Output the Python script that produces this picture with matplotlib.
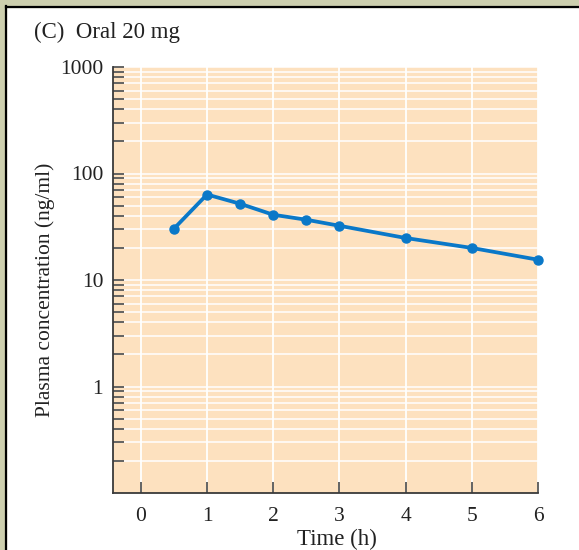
import matplotlib
matplotlib.use('Agg')
import matplotlib.pyplot as plt
from matplotlib.patches import Rectangle
from matplotlib.lines import Line2D
from matplotlib.ticker import LogLocator, FixedLocator, FixedFormatter, NullFormatter

# data
time_h = [0.5, 1, 1.5, 2, 2.5, 3, 4, 5, 6]
conc = [30.3, 63.5, 52.0, 41.0, 36.8, 32.3, 24.8, 20.0, 15.5]
xticks = [0, 1, 2, 3, 4, 5, 6]
yticks = [1, 10, 100, 1000]
ytick_labels = ['1', '10', '100', '1000']

W, H = 579, 550
plt.rcParams['font.family'] = ['Liberation Serif', 'DejaVu Serif']

fig = plt.figure(figsize=(W / 100, H / 100), dpi=100, facecolor='white')

# outer frame: greenish band on top/left plus a dark border
fig.patches.append(Rectangle((0, 0), 5.5 / W, 1, transform=fig.transFigure,
                             color='#cdcfae', zorder=0))
fig.patches.append(Rectangle((0, 1 - 6.5 / H), 1, 6.5 / H, transform=fig.transFigure,
                             color='#cdcfae', zorder=0))
fig.lines.append(Line2D([6 / W, 6 / W], [0, 1 - 6 / H], transform=fig.transFigure,
                        color='black', lw=1.6))
fig.lines.append(Line2D([6 / W, 1], [1 - 7 / H, 1 - 7 / H], transform=fig.transFigure,
                        color='black', lw=1.6))

ax = fig.add_axes([113 / W, 1 - 493 / H, 425 / W, 426 / H])
ax.set_facecolor('#fde1bf')

ax.plot(time_h, conc, color='#0a78c8', lw=2.7, marker='o', ms=6.5,
        solid_capstyle='round', zorder=3, clip_on=False)

ax.set_yscale('log')
ax.set_ylim(0.1, 1000)
ax.set_xlim(-0.42, 6.0)

ax.yaxis.set_major_locator(FixedLocator(yticks))
ax.yaxis.set_major_formatter(FixedFormatter(ytick_labels))
ax.yaxis.set_minor_locator(LogLocator(base=10, subs=range(2, 10), numticks=20))
ax.yaxis.set_minor_formatter(NullFormatter())
ax.set_xticks(xticks)
ax.set_xticklabels([str(t) for t in xticks])

# white grid on every log step and every hour
for v in [0.1, 1, 10, 100, 1000]:
    for k in range(1, 10):
        y = v * k
        if 0.1 < y <= 1000:
            ax.axhline(y, color='white', lw=1.1, zorder=1)
for t in xticks:
    ax.axvline(t, color='white', lw=1.3, zorder=1)

for s in ['top', 'right']:
    ax.spines[s].set_visible(False)
for s in ['left', 'bottom']:
    ax.spines[s].set_color('#3a3a3a')
    ax.spines[s].set_linewidth(1.3)

ax.tick_params(axis='both', which='both', direction='in', length=8,
               width=1.1, color='#3a3a3a', labelsize=15.5, labelcolor='#222222')
ax.tick_params(axis='y', pad=7)
ax.tick_params(axis='x', pad=10)

ax.set_xlabel('Time (h)', fontsize=16.5, color='#222222')
ax.xaxis.set_label_coords(0.527, -0.085)
ax.set_ylabel('Plasma concentration (ng/ml)', fontsize=15.5, color='#222222')
ax.yaxis.set_label_coords(-0.136, 0.478)

fig.text(34 / W, 1 - 32 / H, '(C)  Oral 20 mg', fontsize=16.5, color='#222222',
         va='center', ha='left')

fig.savefig('out.png', dpi=100, facecolor=fig.get_facecolor())
